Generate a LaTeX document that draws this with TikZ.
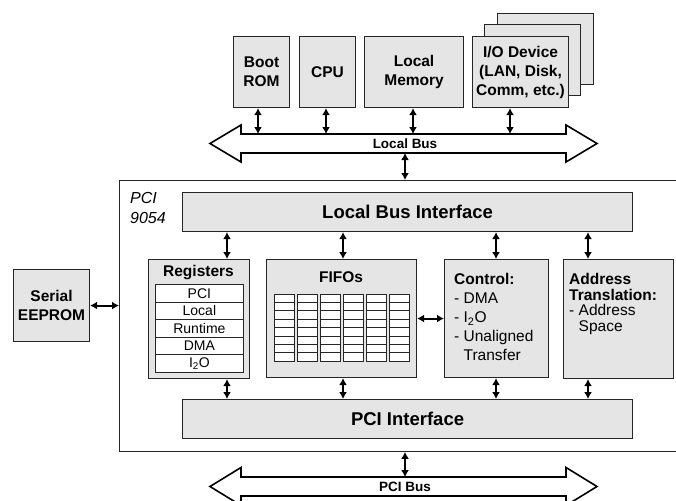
\documentclass[tikz,border=0pt]{standalone}
\usepackage{fontspec}
\setmainfont{Liberation Sans}
\usetikzlibrary{arrows.meta,positioning}

\begin{document}
\begin{tikzpicture}[x=1pt, y=-1pt,
        box/.style={draw=black!85, line width=1.1pt, fill=black!10, anchor=north west, inner sep=0pt, align=center, font=\bfseries\fontsize{15.5}{19}\selectfont},
        regrow/.style={draw=black!85, line width=0.8pt, fill=white, anchor=north west, inner sep=0pt, minimum width=88pt, minimum height=17.6pt, font=\fontsize{14}{16}\selectfont},
        txt/.style={anchor=north west, inner sep=0pt, align=left, font=\fontsize{15.5}{19}\selectfont},
        title/.style={inner sep=0pt, font=\bfseries\fontsize{15.5}{19}\selectfont},
        big/.style={font=\bfseries\fontsize{18.5}{22}\selectfont},
        buslabel/.style={inner sep=0pt, font=\bfseries\fontsize{13.5}{16}\selectfont},
        bus/.style={draw=black, line width=1.6pt, line join=miter, fill=white},
        biarrow/.style={{Latex[length=7pt,width=8pt]}-{Latex[length=7pt,width=8pt]}, line width=2pt},
        fifocell/.style={draw=black!85, line width=0.7pt, fill=white}
    ]
        \useasboundingbox (0,0) rectangle (676,500);
        \clip (0,0) rectangle (676,500);

        % Local side devices
        \node[box, minimum width=96pt, minimum height=71pt] (io3) at (497,13) {};
        \node[box, minimum width=96pt, minimum height=71pt] (io2) at (484,24) {};
        \node[box, minimum width=56pt, minimum height=71pt] (boot) at (233,36) {Boot\\ROM};
        \node[box, minimum width=56pt, minimum height=71pt] (cpu) at (299,36) {CPU};
        \node[box, minimum width=99pt, minimum height=71pt] (lmem) at (364,36) {Local\\Memory};
        \node[box, minimum width=96pt, minimum height=71pt] (io) at (472,36) {I/O Device\\(LAN, Disk,\\Comm, etc.)};

        % Local Bus
        \draw[bus] (210,143.5) -- (241,125) -- (241,134) -- (566,134) -- (566,125) -- (597,143.5)
            -- (566,162) -- (566,153) -- (241,153) -- (241,162) -- cycle;
        \node[buslabel] (lbus) at (405,143.5) {Local Bus};
        \coordinate (lbtop) at (405,134);
        \coordinate (lbbot) at (405,153);

        % PCI 9054 chip
        \node[draw=black!85, line width=0.9pt, anchor=north west, inner sep=0pt, minimum width=600pt, minimum height=271pt] (chip) at (119,180) {};
        \node[txt, font=\itshape\fontsize{16}{20}\selectfont] (chipname) at (130,192) {PCI\\9054};
        \node[box, big, minimum width=450pt, minimum height=39pt] (lbi) at (182,192) {Local Bus Interface};
        \node[box, big, minimum width=450pt, minimum height=39pt] (pcii) at (182,399) {PCI Interface};

        % Registers
        \node[box, minimum width=101pt, minimum height=119pt] (regs) at (148,259) {};
        \node[title] (regtitle) at (198.5,273) {Registers};
        \foreach \t [count=\i] in {PCI,Local,Runtime,DMA,I\textsubscript{2}O}
            \node[regrow] (reg\i) at (155,{284+17.6*(\i-1)}) {\t};

        % FIFOs
        \node[box, minimum width=150pt, minimum height=118pt] (fifo) at (266,259) {};
        \node[title] (fifotitle) at (341,277) {FIFOs};
        \foreach \c in {0,...,5} {
            \draw[fifocell] ({274+23*\c},294) rectangle ++(20.5,67);
            \foreach \r in {1,...,7}
                \draw[draw=black!85, line width=0.7pt] ({274+23*\c},{294+8.375*\r}) -- ++(20.5,0);
        }

        % Control
        \node[box, minimum width=104pt, minimum height=118pt] (ctrl) at (444,259) {};
        \node[txt] (ctrltxt) at (454,273.5) {\textbf{Control:}\\- DMA\\- I\textsubscript{2}O\\- Unaligned\\\phantom{-}~Transfer};

        % Address Translation
        \node[box, minimum width=110pt, minimum height=119pt] (addr) at (563,259) {};
        \node[txt, font=\fontsize{15.5}{15.5}\selectfont] (addrtxt) at (569,273.5) {\textbf{Address}\\\textbf{Translation:}\\- Address\\\phantom{-}~Space};

        % Serial EEPROM
        \node[box, minimum width=76pt, minimum height=72pt] (eeprom) at (13,269) {Serial\\EEPROM};

        % PCI Bus
        \draw[bus] (210,486.5) -- (241,467.5) -- (241,477) -- (566,477) -- (566,467.5) -- (597,486.5)
            -- (566,505.5) -- (566,496) -- (241,496) -- (241,505.5) -- cycle;
        \node[buslabel] (pbus) at (405,486.5) {PCI Bus};
        \coordinate (pbtop) at (405,477);

        % Arrows
        \foreach \n/\x in {boot/258,cpu/326,lmem/413,io/510} {
            \coordinate (\n-x) at (\x,0);
            \draw[biarrow] (\n.south -| \n-x) -- (lbtop -| \n-x);
        }
        \draw[biarrow] (lbbot) -- (lbbot |- chip.north);
        \draw[biarrow] (eeprom.east) -- (eeprom.east -| chip.west);
        \foreach \n/\x in {regs/227,fifo/343,ctrl/496,addr/588} {
            \coordinate (\n-x) at (\x,0);
            \draw[biarrow] (\n.north -| \n-x) -- (lbi.south -| \n-x);
            \draw[biarrow] (\n.south -| \n-x) -- (pcii.north -| \n-x);
        }
        \draw[biarrow] (fifo.east) -- (ctrl.west);
        \draw[biarrow] (pbtop) -- (pbtop |- chip.south);

    \end{tikzpicture}
\end{document}
